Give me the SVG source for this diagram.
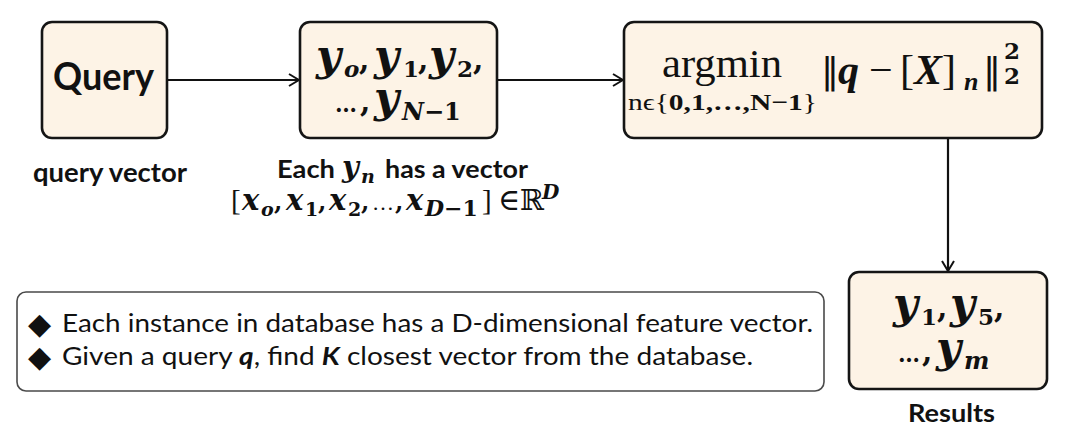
<svg xmlns="http://www.w3.org/2000/svg" width="1080" height="444" viewBox="0 0 1080 444">
<defs>
<style>
.box{fill:#FDF3E6;stroke:#151515;stroke-width:2.6}
.info{fill:#FFFFFF;stroke:#4a4a4a;stroke-width:1.6}
.edge{fill:none;stroke:#111;stroke-width:2.2}
.lbl{font-family:Lato,"Open Sans","Liberation Sans",sans-serif;font-weight:bold;fill:#111}
.body{font-family:Lato,"Open Sans","Liberation Sans",sans-serif;fill:#111}
.m{font-family:"DejaVu Serif","Liberation Serif",serif;font-weight:bold;font-style:italic;fill:#111}
.ml{font-family:"Liberation Serif","DejaVu Serif",serif;font-weight:bold;font-style:italic;fill:#111}
.mb{font-family:"DejaVu Serif","Liberation Serif",serif;font-weight:bold;fill:#111}
.mr{font-family:"Liberation Serif","DejaVu Serif",serif;fill:#111}
.bar{font-family:"DejaVu Sans",sans-serif;fill:#111}
.dia{font-family:"DejaVu Sans",sans-serif;fill:#111}
</style>
<marker id="arr" viewBox="0 0 12 14" refX="11" refY="7" markerWidth="12" markerHeight="14" markerUnits="userSpaceOnUse" orient="auto">
<path d="M1,1 L11,7 L1,13" fill="none" stroke="#111" stroke-width="2"/>
</marker>
</defs>
<rect width="1080" height="444" fill="#FFFFFF"/>

<g id="connectors">
<line class="edge" x1="167" y1="80" x2="299" y2="80" marker-end="url(#arr)"/>
<line class="edge" x1="497" y1="80" x2="623" y2="80" marker-end="url(#arr)"/>
<line class="edge" x1="948" y1="138" x2="948" y2="271" marker-end="url(#arr)"/>
</g>

<g id="node-query">
<rect class="box" x="42" y="22" width="125" height="116" rx="10"/>
<text class="lbl" x="53" y="90" font-size="38" textLength="101" lengthAdjust="spacingAndGlyphs">Query</text>
<text class="lbl" x="33" y="182" font-size="26" textLength="154" lengthAdjust="spacingAndGlyphs">query vector</text>
</g>

<g id="node-database">
<rect class="box" x="300" y="22" width="197" height="116" rx="10"/>
<text font-size="43">
<tspan class="m" x="316" y="70">y</tspan><tspan class="m" x="344" y="77" font-size="23">o</tspan><tspan class="mb" x="359" y="70" font-size="30">,</tspan>
<tspan class="m" x="374" y="70">y</tspan><tspan class="mb" x="403" y="77" font-size="23">1</tspan><tspan class="mb" x="418" y="70" font-size="30">,</tspan>
<tspan class="m" x="429" y="70">y</tspan><tspan class="mb" x="457" y="77" font-size="23">2</tspan><tspan class="mb" x="473" y="70" font-size="30">,</tspan>
</text>
<text font-size="43">
<tspan class="mb" x="335" y="112" font-size="22">…</tspan><tspan class="mb" x="360" y="112" font-size="30">,</tspan>
<tspan class="m" x="374" y="112">y</tspan><tspan class="m" x="402" y="120" font-size="24">N</tspan><tspan class="mb" x="424" y="120" font-size="24">−1</tspan>
</text>
<text class="lbl" x="277" y="178" font-size="25" textLength="58" lengthAdjust="spacingAndGlyphs">Each</text>
<text font-size="29"><tspan class="m" x="342" y="177">y</tspan><tspan class="m" x="361" y="183" font-size="19">n</tspan></text>
<text class="lbl" x="385" y="178" font-size="25" textLength="143" lengthAdjust="spacingAndGlyphs">has a vector</text>
<text font-size="29">
<tspan class="mr" x="231" y="210">[</tspan><tspan class="m" x="242" y="210">x</tspan><tspan class="m" x="261" y="216" font-size="19">o</tspan><tspan class="mb" x="274" y="210" font-size="24">,</tspan>
<tspan class="m" x="286" y="210">x</tspan><tspan class="mb" x="305" y="216" font-size="19">1</tspan><tspan class="mb" x="318" y="210" font-size="24">,</tspan>
<tspan class="m" x="329" y="210">x</tspan><tspan class="mb" x="348" y="216" font-size="19">2</tspan><tspan class="mb" x="361" y="210" font-size="24">,</tspan>
<tspan class="mr" x="372" y="210" font-size="22">…</tspan><tspan class="mb" x="395" y="210" font-size="24">,</tspan>
<tspan class="m" x="406" y="210">x</tspan><tspan class="m" x="425" y="216" font-size="22">D</tspan><tspan class="mb" x="444" y="216" font-size="22">−1</tspan>
<tspan class="mr" x="482" y="210">]</tspan><tspan class="mr" x="498" y="210" font-size="30">∈</tspan>
<tspan font-family="'DejaVu Serif','DejaVu Sans',serif" fill="#111" x="520" y="210" font-size="29">ℝ</tspan><tspan class="m" x="542" y="199" font-size="20">D</tspan>
</text>
</g>

<g id="node-argmin">
<rect class="box" x="624" y="22" width="418" height="116" rx="10"/>
<text class="mr" x="662" y="77" font-size="41" textLength="120" lengthAdjust="spacingAndGlyphs">argmin</text>
<text class="mr" x="628" y="110" font-size="23" textLength="189" lengthAdjust="spacingAndGlyphs">nϵ{<tspan font-weight="bold">0,1,…,N−1</tspan>}</text>
<text font-size="42">
<tspan class="bar" x="821" y="83" font-size="36">‖</tspan><tspan class="ml" x="838" y="84">q</tspan><tspan class="mr" x="869" y="84">−</tspan>
<tspan class="mr" x="900" y="84">[</tspan><tspan class="ml" x="914" y="84">X</tspan><tspan class="mr" x="942" y="84">]</tspan>
<tspan class="ml" x="964" y="90" font-size="26">n</tspan><tspan class="bar" x="983" y="83" font-size="36">‖</tspan>
<tspan class="mb" x="1004" y="59" font-size="23">2</tspan><tspan class="mb" x="1004" y="84" font-size="23">2</tspan>
</text>
</g>

<g id="node-results">
<rect class="box" x="849" y="272" width="198" height="117" rx="10"/>
<text font-size="43">
<tspan class="m" x="893" y="318">y</tspan><tspan class="mb" x="921" y="325" font-size="23">1</tspan><tspan class="mb" x="937" y="318" font-size="30">,</tspan>
<tspan class="m" x="950" y="318">y</tspan><tspan class="mb" x="978" y="325" font-size="23">5</tspan><tspan class="mb" x="994" y="318" font-size="30">,</tspan>
</text>
<text font-size="43">
<tspan class="mb" x="898" y="362" font-size="22">…</tspan><tspan class="mb" x="922" y="362" font-size="30">,</tspan>
<tspan class="m" x="936" y="362">y</tspan><tspan class="m" x="964" y="369" font-size="24">m</tspan>
</text>
<text class="lbl" x="908" y="422" font-size="25" textLength="87" lengthAdjust="spacingAndGlyphs">Results</text>
</g>

<g id="node-info">
<rect class="info" x="17" y="292" width="807" height="99" rx="9"/>
<text class="dia" x="28" y="334" font-size="30">◆</text>
<text class="dia" x="28" y="367" font-size="30">◆</text>
<text class="body" x="62" y="332" font-size="25" textLength="751" lengthAdjust="spacingAndGlyphs">Each instance in database has a D-dimensional feature vector.</text>
<text class="body" x="62" y="365" font-size="25" textLength="691" lengthAdjust="spacingAndGlyphs">Given a query <tspan font-weight="bold" font-style="italic">q</tspan>, find <tspan font-weight="bold" font-style="italic">K</tspan> closest vector from the database.</text>
</g>
</svg>
